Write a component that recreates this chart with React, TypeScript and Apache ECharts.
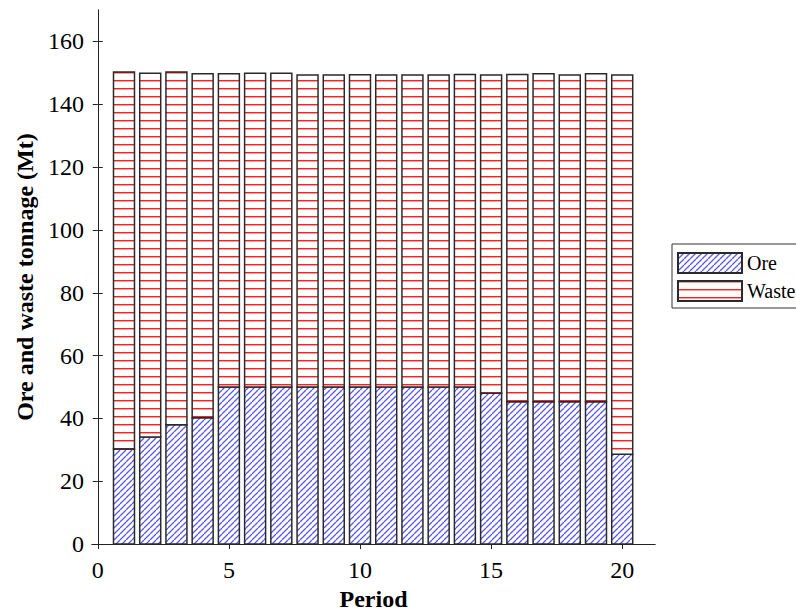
import React, { useEffect, useRef } from "react";
import * as echarts from "echarts";

const periods = [1, 2, 3, 4, 5, 6, 7, 8, 9, 10, 11, 12, 13, 14, 15, 16, 17, 18, 19, 20];
const oreTonnage = [30.3, 34.1, 38.0, 40.2, 50, 50, 50, 50, 50, 50, 50, 50, 50, 50, 48, 45.3, 45.3, 45.3, 45.3, 28.6];
const totalTonnage = [150.3, 149.9, 150.3, 149.7, 149.7, 149.9, 149.9, 149.3, 149.3, 149.4, 149.3, 149.3, 149.3, 149.5, 149.3, 149.5, 149.7, 149.3, 149.7, 149.3];
const wasteTonnage = totalTonnage.map((t, i) => +(t - oreTonnage[i]).toFixed(2));
const xTicks = [0, 5, 10, 15, 20];
const yTicks = [0, 20, 40, 60, 80, 100, 120, 140, 160];
const seriesNames = ["Ore", "Waste"];

const FONT = "Liberation Serif";
const BAR_WIDTH = 0.8;

function makeOrePattern(): HTMLCanvasElement {
  const s = 6;
  const c = document.createElement("canvas");
  c.width = s;
  c.height = s;
  const ctx = c.getContext("2d")!;
  ctx.fillStyle = "#ffffff";
  ctx.fillRect(0, 0, s, s);
  ctx.strokeStyle = "#5a5af2";
  ctx.lineWidth = 1.3;
  for (const k of [-1, 0, 1]) {
    ctx.beginPath();
    ctx.moveTo(k * s, s);
    ctx.lineTo(k * s + s, 0);
    ctx.stroke();
  }
  return c;
}

function makeWastePattern(): HTMLCanvasElement {
  const c = document.createElement("canvas");
  c.width = 4;
  c.height = 8;
  const ctx = c.getContext("2d")!;
  ctx.fillStyle = "#ffffff";
  ctx.fillRect(0, 0, 4, 8);
  ctx.fillStyle = "#ff2020";
  ctx.fillRect(0, 0, 4, 1);
  ctx.fillStyle = "#ff9c9c";
  ctx.fillRect(0, 1, 4, 1);
  return c;
}

export default function App() {
  const ref = useRef<HTMLDivElement>(null);

  useEffect(() => {
    if (!ref.current) return;
    const chart = echarts.init(ref.current, undefined, { renderer: "svg" });
    const orePattern = { image: makeOrePattern(), repeat: "repeat" };
    const wastePattern = { image: makeWastePattern(), repeat: "repeat" };

    const axisLine = { show: true, lineStyle: { color: "#222", width: 1 } };
    const xRange = { min: -0.22, max: 21.25 };

    const makeRender = (fill: any) => (params: any, api: any) => {
      const x = api.value(0);
      const lo = api.value(1);
      const hi = api.value(2);
      const p0 = api.coord([x - BAR_WIDTH / 2, lo]);
      const p1 = api.coord([x + BAR_WIDTH / 2, hi]);
      return {
        type: "rect",
        shape: { x: p0[0], y: p1[1], width: p1[0] - p0[0], height: p0[1] - p1[1] },
        style: { fill, stroke: "#2a2a2a", lineWidth: 1.5 },
      };
    };

    chart.setOption({
      animation: false,
      backgroundColor: "#ffffff",
      grid: { left: 92, right: 141, top: 10, bottom: 70, containLabel: false },
      legend: {
        orient: "vertical",
        left: 672,
        top: 244,
        padding: [8, 6, 6, 5],
        itemWidth: 64,
        itemHeight: 20,
        itemGap: 6,
        borderColor: "#333",
        borderWidth: 1,
        backgroundColor: "#fff",
        icon: "rect",
        data: seriesNames,
        textStyle: { fontFamily: FONT, fontSize: 20, color: "#000" },
      },
      xAxis: [
        {
          type: "value",
          position: "bottom",
          ...xRange,
          axisLine,
          splitLine: { show: false },
          axisTick: { show: true, inside: true, length: 5, lineStyle: { color: "#222" }, customValues: xTicks },
          axisLabel: { customValues: xTicks, fontFamily: FONT, fontSize: 24, color: "#000", margin: 14 },
          name: "Period",
          nameLocation: "middle",
          nameGap: 42,
          nameTextStyle: { fontFamily: FONT, fontSize: 24, fontWeight: "bold", color: "#000" },
        },
        {
          type: "value",
          position: "top",
          ...xRange,
          axisLine,
          splitLine: { show: false },
          axisTick: { show: true, inside: true, length: 5, lineStyle: { color: "#222" }, customValues: xTicks },
          axisLabel: { show: false },
        },
      ],
      yAxis: [
        {
          type: "value",
          position: "left",
          min: 0,
          max: 170,
          axisLine,
          splitLine: { show: false },
          axisTick: { show: true, inside: true, length: 5, lineStyle: { color: "#222" }, customValues: yTicks },
          axisLabel: { customValues: yTicks, fontFamily: FONT, fontSize: 24, color: "#000", margin: 8 },
          name: "Ore and waste tonnage (Mt)",
          nameLocation: "middle",
          nameGap: 52,
          nameTextStyle: { fontFamily: FONT, fontSize: 24, fontWeight: "bold", color: "#000" },
        },
        {
          type: "value",
          position: "right",
          min: 0,
          max: 170,
          axisLine,
          splitLine: { show: false },
          axisTick: { show: true, inside: true, length: 5, lineStyle: { color: "#222" }, customValues: yTicks },
          axisLabel: { show: false },
        },
      ],
      series: [
        {
          name: seriesNames[0],
          type: "custom",
          xAxisIndex: 0,
          yAxisIndex: 0,
          renderItem: makeRender(orePattern),
          encode: { x: 0, y: [1, 2] },
          data: periods.map((p, i) => [p, 0, oreTonnage[i]]),
          itemStyle: { color: orePattern, borderColor: "#2a2a2a", borderWidth: 1.5 },
        },
        {
          name: seriesNames[1],
          type: "custom",
          xAxisIndex: 0,
          yAxisIndex: 0,
          renderItem: makeRender(wastePattern),
          encode: { x: 0, y: [1, 2] },
          data: periods.map((p, i) => [p, oreTonnage[i], oreTonnage[i] + wasteTonnage[i]]),
          itemStyle: { color: wastePattern, borderColor: "#2a2a2a", borderWidth: 1.5 },
        },
      ],
    });
    return () => chart.dispose();
  }, []);

  return <div ref={ref} style={{ width: 796, height: 616, position: "absolute", left: 0, top: 0 }} />;
}
